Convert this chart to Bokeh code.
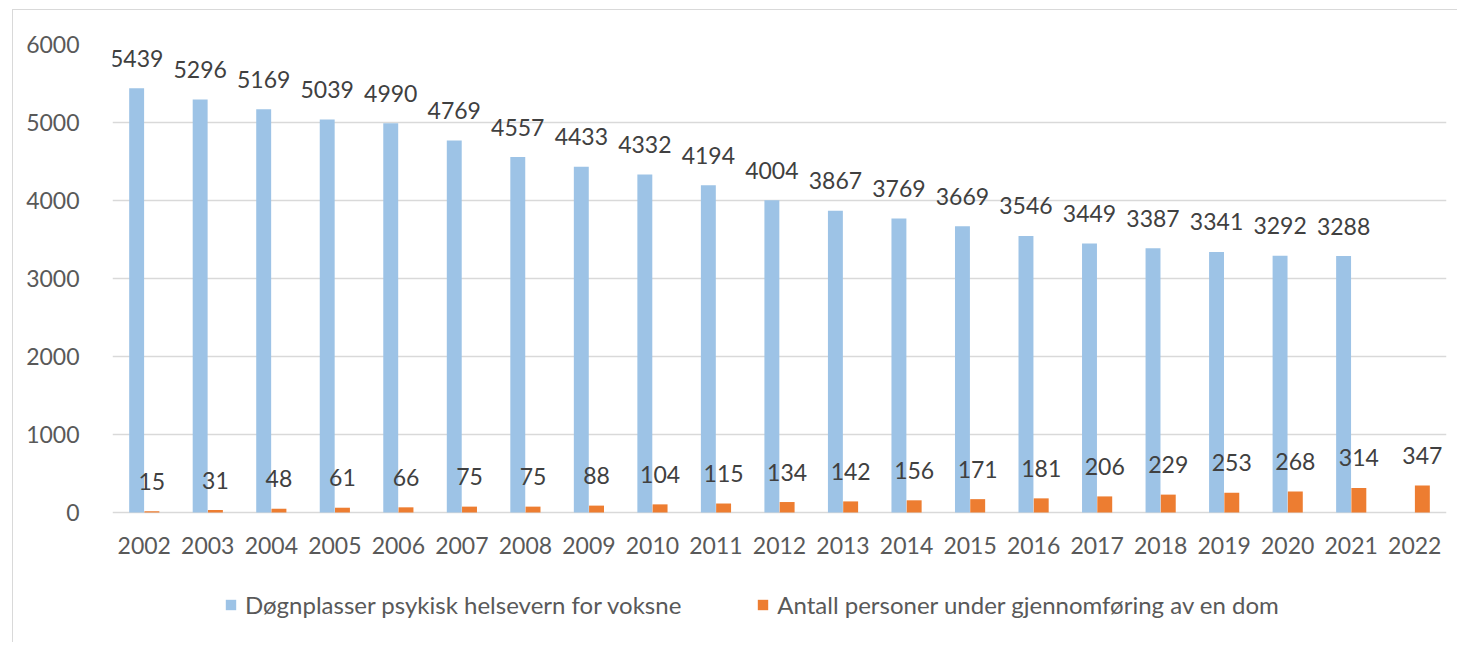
from bokeh.plotting import figure
from bokeh.models import ColumnDataSource, LabelSet, Legend, LegendItem
from bokeh.transform import dodge
from bokeh.core.properties import value
from bokeh.embed import file_html
from bokeh.resources import INLINE

years = [str(y) for y in range(2002, 2023)]
years_blue = years[:-1]
dogn = [5439, 5296, 5169, 5039, 4990, 4769, 4557, 4433, 4332, 4194, 4004,
        3867, 3769, 3669, 3546, 3449, 3387, 3341, 3292, 3288]
dom = [15, 31, 48, 61, 66, 75, 75, 88, 104, 115, 134, 142, 156, 171, 181,
       206, 229, 253, 268, 314, 347]
series_names = ["Døgnplasser psykisk helsevern for voksne",
                "Antall personer under gjennomføring av en dom"]
y_ticks = [0, 1000, 2000, 3000, 4000, 5000, 6000]

FONT = "Lato"
TXT = "#595959"

src_b = ColumnDataSource(dict(x=years_blue, y=dogn, t=[str(v) for v in dogn]))
src_o = ColumnDataSource(dict(x=years, y=dom, t=[str(v) for v in dom]))

# frame extends below zero so that the legend can sit inside it
p = figure(x_range=years, y_range=(-1667, 6000), width=1445, height=633,
           output_backend="svg", toolbar_location=None,
           min_border_left=99, min_border_right=12, min_border_top=34,
           min_border_bottom=1)
p.styles = {"margin-left": "12px", "margin-top": "9px",
            "border-left": "1px solid #d9d9d9", "border-top": "1px solid #d9d9d9"}
p.outline_line_color = None
p.background_fill_color = "white"
p.border_fill_color = "white"

w = 0.235
rb = p.vbar(x=dodge("x", -0.12, range=p.x_range), top="y", width=w, source=src_b,
            fill_color="#9DC3E6", line_color=None)
ro = p.vbar(x=dodge("x", 0.12, range=p.x_range), top="y", width=w, source=src_o,
            fill_color="#ED7D31", line_color=None)

for src, off in ((src_b, -0.12), (src_o, 0.12)):
    lab = LabelSet(x=dodge("x", off, range=p.x_range), y="y", text="t", source=src,
                   y_offset=30, text_align="center", text_baseline="middle",
                   text_font=value(FONT), text_font_size="23px", text_color="#404040")
    p.add_layout(lab)

p.xgrid.grid_line_color = None
p.ygrid.grid_line_color = "#d9d9d9"
p.ygrid.grid_line_width = 1.5
p.yaxis.ticker = y_ticks
p.ygrid.ticker = y_ticks
p.xaxis.fixed_location = 0

for ax in (p.xaxis[0], p.yaxis[0]):
    ax.axis_line_color = None
    ax.major_tick_line_color = None
    ax.minor_tick_line_color = None
    ax.major_label_text_font = FONT
    ax.major_label_text_font_size = "23px"
    ax.major_label_text_color = TXT
p.yaxis.major_label_standoff = 27
p.xaxis.major_label_standoff = 19
p.x_range.range_padding = 0

legend = Legend(items=[LegendItem(label=series_names[0], renderers=[rb]),
                       LegendItem(label=series_names[1], renderers=[ro])],
                orientation="horizontal", location=(112, 23),
                glyph_width=13, glyph_height=13, label_standoff=8, spacing=75,
                padding=0, margin=0, border_line_color=None,
                background_fill_alpha=0,
                label_text_font=FONT, label_text_font_size="24px",
                label_text_color=TXT, label_height=26)
p.add_layout(legend, "center")

open("out.html", "w").write(file_html(p, INLINE))
